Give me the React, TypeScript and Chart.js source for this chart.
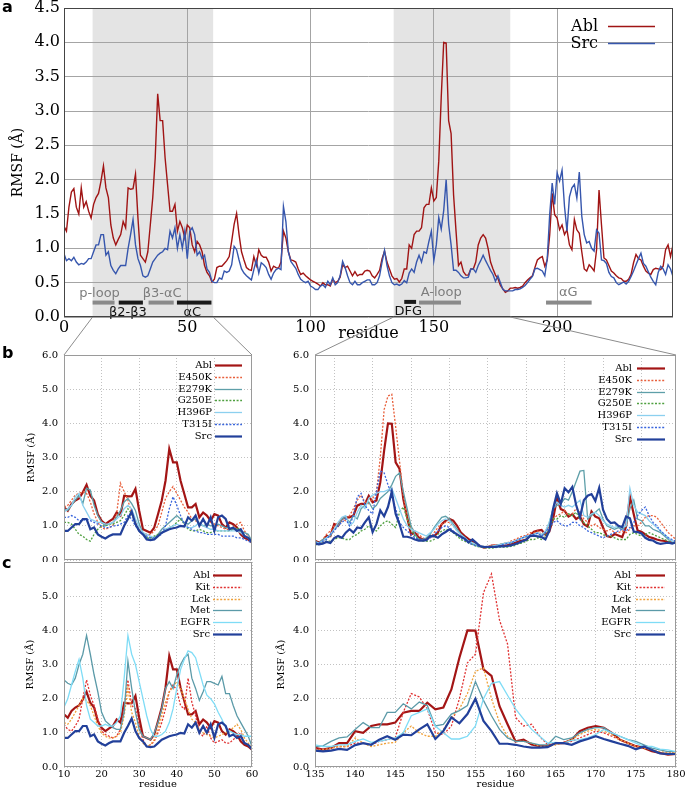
import React, { useEffect, useRef } from "react";
import { Chart, registerables } from "chart.js";
Chart.register(...registerables);

const SERIF = '"DejaVu Serif", serif';
const SANS = '"DejaVu Sans", sans-serif';

// ---------- data: RMSF per residue (residue index = array index) ----------
const ABL = [
  1.32, 1.25, 1.6, 1.82, 1.87, 1.6, 1.5, 1.88, 1.6, 1.68,
  1.54, 1.44, 1.64, 1.74, 1.8, 1.98, 2.2, 1.88, 1.74, 1.34,
  1.15, 1.05, 1.13, 1.2, 1.39, 1.3, 1.88, 1.86, 1.87, 2.08,
  1.44, 0.9, 0.85, 0.8, 0.95, 1.34, 1.74, 2.32, 3.25, 2.86,
  2.86, 2.32, 1.93, 1.54, 1.54, 1.64, 1.25, 1.39, 1.3, 1.15,
  1.34, 1.3, 1.05, 0.95, 1.1, 1.05, 0.95, 0.75, 0.65, 0.6,
  0.51, 0.55, 0.72, 0.74, 0.74, 0.78, 0.82, 0.88, 1.1, 1.35,
  1.51, 1.2, 0.95, 0.83, 0.72, 0.69, 0.68, 0.88, 0.75, 0.98,
  0.9, 0.87, 0.87, 0.8, 0.67, 0.74, 0.72, 0.71, 0.8, 1.25,
  1.15, 0.95, 0.83, 0.82, 0.8, 0.7, 0.62, 0.64, 0.6, 0.57,
  0.54, 0.52, 0.5, 0.48, 0.45, 0.5, 0.47, 0.47, 0.45, 0.55,
  0.5, 0.52, 0.58, 0.76, 0.72, 0.74, 0.67, 0.6, 0.66, 0.6,
  0.62, 0.62, 0.67, 0.68, 0.67, 0.6, 0.57, 0.62, 0.68, 0.85,
  0.96, 0.8, 0.7, 0.6, 0.55, 0.56, 0.51, 0.56, 0.7, 0.7,
  1.05, 1.0, 1.2, 1.25, 1.25, 1.3, 1.59, 1.64, 1.64, 1.88,
  1.69, 1.74, 2.27, 3.2, 4.0, 3.99, 2.86, 2.67, 1.78, 1.25,
  0.75, 0.8, 0.66, 0.61, 0.61, 0.7, 0.7, 0.8, 1.05, 1.15,
  1.2, 1.15, 1.0, 0.8, 0.7, 0.61, 0.56, 0.46, 0.41, 0.36,
  0.38, 0.42, 0.42, 0.43, 0.42, 0.43, 0.45, 0.5, 0.54, 0.57,
  0.6, 0.72, 0.83, 0.86, 0.88, 0.74, 0.83, 1.2, 1.8, 1.49,
  1.44, 1.27, 1.34, 1.2, 1.27, 1.05, 0.98, 1.42, 1.27, 1.22,
  0.95, 0.7, 0.67, 0.76, 0.72, 0.67, 0.98, 1.85, 1.34, 0.86,
  0.83, 0.75, 0.67, 0.64, 0.6, 0.57, 0.56, 0.52, 0.52, 0.55,
  0.62, 0.79, 0.91, 0.85, 0.83, 0.74, 0.67, 0.64, 0.62, 0.69,
  0.71, 0.7, 0.69, 0.74, 0.98, 1.05, 0.88, 1.05,
];
const SRC = [
  0.92, 0.82, 0.85, 0.82, 0.87, 0.8, 0.76, 0.78, 0.77, 0.8,
  0.85, 0.85, 0.95, 1.05, 1.05, 1.2, 1.2, 0.9, 0.95, 0.75,
  0.68, 0.63, 0.7, 0.75, 0.75, 0.75, 1.0, 1.2, 1.42, 1.05,
  0.85, 0.75, 0.6, 0.58, 0.6, 0.7, 0.8, 0.85, 0.9, 0.93,
  0.95, 1.0, 0.98, 1.25, 1.15, 1.3, 1.0, 1.2, 1.0, 1.25,
  0.85, 1.25, 1.3, 1.2, 0.9, 0.95, 0.85, 0.9, 0.7, 0.65,
  0.52, 0.5, 0.5, 0.57, 0.55, 0.67, 0.65, 0.67, 0.76, 1.03,
  0.98, 0.83, 0.7, 0.64, 0.6, 0.57, 0.54, 0.69, 0.83, 0.64,
  0.79, 0.76, 0.72, 0.62, 0.55, 0.64, 0.69, 0.71, 0.69, 1.61,
  1.39, 0.95, 0.81, 0.76, 0.71, 0.62, 0.55, 0.52, 0.5, 0.52,
  0.45, 0.43, 0.4, 0.4, 0.45, 0.47, 0.43, 0.52, 0.47, 0.57,
  0.47, 0.5, 0.6, 0.81, 0.72, 0.6, 0.5, 0.47, 0.52, 0.47,
  0.47, 0.5, 0.52, 0.54, 0.54, 0.47, 0.47, 0.5, 0.6, 0.8,
  0.97, 0.75, 0.6, 0.5, 0.47, 0.48, 0.46, 0.48, 0.53, 0.5,
  0.64, 0.7, 0.65, 0.8, 0.9, 0.8, 0.95, 0.93, 1.1, 1.25,
  0.82, 1.05, 1.45, 1.28, 1.55, 2.0, 1.35, 1.05, 0.68, 0.68,
  0.65, 0.6, 0.57, 0.57, 0.58, 0.7, 0.7, 0.65, 0.75, 0.82,
  0.9, 0.82, 0.75, 0.68, 0.62, 0.52, 0.6, 0.5, 0.4, 0.38,
  0.38, 0.38, 0.38, 0.4, 0.4, 0.41, 0.43, 0.46, 0.5, 0.55,
  0.59, 0.7, 0.71, 0.69, 0.67, 0.6, 0.85, 1.5, 1.95, 1.64,
  2.1, 1.98, 2.14, 1.61, 1.25, 1.75, 1.88, 1.93, 1.73, 2.11,
  1.47, 1.2, 1.08, 1.1, 1.0, 0.96, 1.27, 1.22, 0.83, 0.82,
  0.78, 0.65, 0.59, 0.57, 0.5, 0.47, 0.49, 0.51, 0.48, 0.52,
  0.59, 0.67, 0.76, 0.85, 0.93, 0.78, 0.74, 0.66, 0.58, 0.52,
  0.47, 0.65, 0.74, 0.7, 0.62, 0.76, 0.7, 0.59,
];

// zoomed windows
const LEFT_START = 10; // residues 10..60
const LEFT_END = 60;
const RIGHT_START = 135; // residues 135..229 (b) / 135..180 (c)
const RIGHT_END_B = 229;
const RIGHT_END_C = 180;

// Abl mutants, residues 10..60
const E450K_L = [1.55,1.6,1.75,1.9,1.95, 2.0,1.95,1.7,1.35,1.1, 0.95,0.9,0.95,1.0,1.35, 2.25,2.0,1.75,1.35,1.1, 0.9,0.8,0.75,0.75,0.85, 1.0,1.4,1.8,2.0,2.15, 1.95,1.75,1.55,1.4,1.2, 1.15,1.05,1.0,1.0,1.1, 1.05,1.0,0.95,0.9,0.9, 0.95,1.05,1.1,0.85,0.7, 0.5];
const E279K_L = [1.5,1.45,1.6,1.75,1.9, 1.65,2.1,2.05,1.6,1.3, 1.1,1.0,1.05,1.1,1.25, 1.45,1.7,1.8,1.65,1.45, 1.05,0.8,0.65,0.6,0.65, 0.75,0.9,1.0,1.1,1.2, 1.3,1.2,1.1,1.05,1.15, 1.2,1.05,1.0,1.05,1.0, 1.0,1.05,1.0,0.95,0.95, 0.9,0.9,0.85,0.8,0.75, 0.55];
const G250E_L = [1.1,1.1,1.05,0.9,0.75, 0.7,0.6,0.55,0.75,0.9, 1.0,1.0,1.05,1.05,1.1, 1.15,1.3,1.5,1.35,1.05, 0.85,0.75,0.65,0.65,0.7, 0.75,0.8,0.9,0.95,1.0, 1.1,1.2,1.05,0.9,0.85, 0.85,0.9,0.85,0.8,0.8, 0.85,0.85,0.85,0.85,0.85, 0.9,0.95,0.85,0.7,0.65, 0.5];
const H396P_L = [1.4,1.5,1.6,1.85,1.95, 1.6,1.4,1.2,1.15,1.1, 1.1,1.05,1.05,1.1,1.2, 1.3,1.5,1.6,1.5,1.2, 0.95,0.8,0.75,0.7,0.65, 0.7,0.8,0.9,0.95,1.0, 1.05,1.0,1.0,0.95,0.95, 1.0,1.1,1.0,0.95,0.9, 0.9,0.85,0.85,0.85,0.85, 0.85,0.85,0.8,0.7,0.65, 0.5];
const T315I_L = [1.25,1.25,1.3,1.25,1.15, 1.15,1.2,1.15,1.1,1.05, 1.0,0.95,0.95,1.0,1.0, 1.05,1.1,1.3,1.2,1.0, 0.85,0.75,0.7,0.65,0.65, 0.7,0.75,1.0,1.5,1.85, 1.6,1.3,1.05,0.95,0.9, 0.85,0.8,0.8,0.75,0.75, 0.75,0.75,0.7,0.7,0.7, 0.7,0.65,0.65,0.6,0.55, 0.5];

// Abl mutants, residues 135..229
const E450K_R = [0.5,0.5,0.6,0.75,0.85, 1.0,1.1,1.2,1.15,1.3, 1.5,1.75,1.9,1.7,1.65, 1.8,2.0,3.0,4.4,4.8, 4.85,3.9,2.9,1.9,1.2, 0.95,0.85,0.75,0.65,0.6, 0.65,0.8,0.95,1.05,1.1, 1.1,1.0,0.85,0.75,0.65, 0.55,0.5,0.45,0.42,0.4, 0.4,0.42,0.45,0.45,0.48, 0.5,0.55,0.6,0.65,0.7, 0.72,0.8,0.8,0.85,0.75, 0.85,1.0,1.2,1.3,1.35, 1.45,1.3,1.35,1.5,1.4, 1.2,1.1,1.0,1.05,0.95, 0.9,0.85,0.9,0.8,0.8, 0.85,0.8,0.9,1.0,1.0, 1.1,1.25,1.3,1.3,1.25, 1.1,0.95,0.8,0.7,0.6];
const E279K_R = [0.55,0.5,0.6,0.65,0.7, 0.9,1.0,1.2,1.25,1.1, 1.3,1.2,1.5,1.6,1.7, 1.5,1.6,1.8,1.9,2.0, 2.2,2.45,2.55,2.0,1.5, 1.0,0.75,0.6,0.6,0.65, 0.75,0.95,1.1,1.25,1.28, 1.2,1.05,0.9,0.75,0.65, 0.55,0.48,0.42,0.4,0.38, 0.38,0.4,0.42,0.45,0.48, 0.5,0.5,0.55,0.6,0.65, 0.68,0.7,0.75,0.8,0.7, 0.8,1.1,1.5,1.6,1.65, 1.8,1.75,2.0,2.3,2.6, 2.62,1.2,1.3,1.4,1.5, 1.2,1.0,0.95,0.9,0.95, 0.9,1.0,1.5,1.75,1.2, 1.15,1.0,1.0,0.9,0.85, 0.8,0.7,0.6,0.55,0.5];
const G250E_R = [0.45,0.45,0.5,0.55,0.55, 0.6,0.65,0.65,0.6,0.6, 0.7,0.75,0.85,0.9,1.0, 0.9,0.85,1.0,1.1,1.15, 1.05,0.95,1.4,1.55,1.2, 0.9,0.7,0.6,0.55,0.55, 0.55,0.6,0.75,0.85,0.9, 0.88,0.8,0.7,0.6,0.55, 0.5,0.45,0.4,0.38,0.36, 0.35,0.35,0.36,0.38,0.38, 0.38,0.4,0.42,0.48,0.5, 0.55,0.6,0.6,0.65,0.6, 0.7,0.9,1.2,1.2,1.3, 1.25,1.35,1.3,1.4,1.2, 1.1,1.0,0.9,0.8,0.8, 0.75,0.7,0.7,0.65,0.6, 0.6,0.6,0.75,0.8,0.75, 0.7,0.75,0.8,0.75,0.7, 0.65,0.6,0.55,0.5,0.5];
const H396P_R = [0.5,0.5,0.55,0.65,0.75, 0.9,1.1,1.25,1.3,1.0, 1.1,1.4,1.6,1.5,1.8, 1.9,1.95,2.0,2.0,2.05, 2.1,1.8,1.5,1.2,1.0, 0.9,0.85,0.8,0.75,0.7, 0.8,0.9,1.05,1.15,1.2, 1.15,1.0,0.85,0.75,0.65, 0.55,0.5,0.45,0.42,0.4, 0.4,0.4,0.42,0.45,0.47, 0.5,0.52,0.55,0.6,0.65, 0.7,0.72,0.75,0.8,0.75, 0.85,1.1,1.5,1.7,1.6, 1.55,1.6,1.55,1.65,1.75, 1.3,1.25,1.35,1.4,1.3, 1.15,1.05,1.0,0.95,1.0, 0.95,1.0,2.1,1.6,1.4, 1.35,1.3,1.15,1.05,0.95, 0.85,0.75,0.65,0.55,0.5];
const T315I_R = [0.5,0.5,0.55,0.6,0.75, 0.85,1.0,1.1,1.2,1.0, 1.3,1.85,1.95,1.6,1.45, 1.35,2.0,2.6,2.55,2.2, 1.9,1.5,1.1,0.95,0.85, 0.75,0.65,0.6,0.6,0.6, 0.65,0.75,0.85,0.95,1.0, 0.95,0.85,0.75,0.65,0.58, 0.5,0.45,0.42,0.4,0.38, 0.38,0.38,0.4,0.42,0.45, 0.48,0.5,0.55,0.6,0.65, 0.7,0.72,0.75,0.78,0.7, 0.8,0.95,1.1,1.15,1.05, 1.0,1.0,1.1,1.1,1.0, 0.95,0.85,0.8,0.75,0.7, 0.65,0.7,0.75,0.8,0.85, 0.9,0.85,0.95,1.1,1.3, 1.45,1.55,1.3,1.1,1.0, 0.85,0.75,0.65,0.6,0.55];

// other kinases, residues 10..60
const KIT_L = [1.25,1.1,1.05,1.2,1.4, 2.0,2.55,2.1,1.8,1.4, 1.05,0.95,0.9,0.85,0.9, 1.1,1.7,2.55,1.8,1.7, 1.2,0.8,0.6,0.65,0.75, 1.0,1.3,1.7,2.2,2.4, 2.25,1.8,1.7,2.6,1.9, 1.5,1.0,0.9,1.2,0.85, 0.7,0.75,0.8,0.7,0.7, 0.8,0.9,1.0,0.7,0.65, 0.5];
const LCK_L = [1.3,1.25,1.4,1.6,1.8, 2.0,1.95,1.8,1.5,1.2, 1.0,0.9,0.85,0.85,0.9, 1.0,1.5,2.3,1.6,1.3, 0.9,0.7,0.6,0.65,0.8, 1.1,1.5,1.9,2.2,2.35, 2.5,2.3,2.0,1.7,1.4, 1.3,1.1,1.0,0.95,0.9, 0.85,0.9,0.95,1.0,1.05, 1.15,1.25,1.1,0.85,0.7, 0.55];
const MET_L = [2.55,2.45,2.4,2.6,3.0, 3.3,3.85,3.3,2.7,2.2, 1.6,1.35,1.25,1.15,1.1, 1.1,1.6,3.1,2.3,1.6, 1.1,0.9,0.85,0.8,1.0, 1.3,1.7,2.3,2.5,2.3, 2.7,3.0,3.2,3.3,2.6, 2.3,1.95,2.2,2.5,2.5, 2.45,2.4,2.65,2.15,2.15, 1.8,1.5,1.3,1.1,0.9, 0.6];
const EGFR_L = [1.75,2.0,2.4,2.8,3.15, 2.6,1.8,1.4,1.3,1.2, 1.2,1.25,1.2,1.2,1.3, 1.5,2.6,3.85,3.3,3.0, 2.5,2.0,1.5,1.1,0.9, 0.9,0.95,1.05,1.3,1.7, 2.3,2.85,3.15,3.4,3.35, 3.2,2.8,2.4,2.1,2.0, 1.85,1.6,1.4,1.15,1.05, 1.0,0.95,0.95,0.9,0.9, 0.9];

// other kinases, residues 135..180
const KIT_R = [0.55,0.5,0.55,0.6,0.6, 0.7,0.7,0.65,0.75,0.8, 0.85,1.6,2.15,2.05,1.7, 1.0,0.95,1.2,2.0,3.05, 3.3,5.1,5.65,4.3,3.6, 1.45,1.2,1.25,0.9,0.65, 0.7,0.72,0.75,0.85,0.95, 1.05,1.0,0.9,0.8,0.7, 0.6,0.58,0.5,0.4,0.4, 0.42];
const LCK_R = [0.5,0.5,0.55,0.6,0.6, 0.85,0.7,0.6,0.65,0.7, 0.72,1.0,1.2,1.0,0.9, 0.9,1.1,1.45,1.7,2.15, 2.8,2.9,2.0,1.3,0.9, 0.75,0.75,0.7,0.6,0.6, 0.65,0.7,0.8,0.95,1.05, 1.1,1.05,0.95,0.8,0.7, 0.6,0.55,0.5,0.45,0.42, 0.42];
const MET_R = [0.6,0.62,0.75,0.85,0.88, 1.1,1.3,1.15,1.15,1.6, 1.6,1.85,1.7,1.9,1.8, 1.2,1.25,1.55,1.65,1.8, 2.5,1.95,1.5,1.1,0.85, 0.75,0.75,0.7,0.65,0.65, 0.9,0.8,0.85,1.0,1.1, 1.15,1.15,1.0,0.9,0.8, 0.75,0.65,0.55,0.5,0.45, 0.45];
const EGFR_R = [0.65,0.6,0.6,0.65,0.65, 0.75,0.82,0.72,0.75,0.8, 0.85,1.0,1.5,1.6,1.7, 1.2,1.0,0.82,0.82,0.9, 1.2,2.0,2.45,2.5,2.1, 1.7,1.4,1.1,0.9,0.7, 0.72,0.7,0.78,0.8,0.85, 0.95,1.1,1.0,0.9,0.8, 0.7,0.6,0.6,0.52,0.5, 0.45];

// panel a axis ticks, shaded windows and structural annotations
const A_X_TICKS = [0, 50, 100, 150, 200];
const A_X_MAX = 247;
const SHADE_START = [11.6, 133.7];
const SHADE_END = [60.5, 181];
const REGION_LABELS = ["p-loop", "β2-β3", "β3-αC", "αC", "DFG", "A-loop", "αG"];
const REGION_START = [11.6, 22.2, 34.3, 45.8, 138, 144, 195.5];
const REGION_END = [20.5, 32, 44.5, 59.8, 142.8, 161, 214];
const REGION_BAR_Y = [0.21, 0.21, 0.21, 0.21, 0.22, 0.21, 0.21];
const REGION_TEXT_X = [14.4, 25.9, 39.8, 52, 139.6, 153, 204.5];
const REGION_TEXT_Y = [0.34, 0.06, 0.34, 0.06, 0.08, 0.35, 0.35];
const REGION_DARK = [false, true, false, true, true, false, false];

const B_LEFT_GRID = [20, 30, 40, 50];
const B_RIGHT_GRID = [140, 150, 160, 170, 180, 190, 200, 210, 220];
const C_LEFT_TICKS = [10, 20, 30, 40, 50, 60];
const C_RIGHT_TICKS = [135, 140, 145, 150, 155, 160, 165, 170, 175, 180];

// ---------- helpers ----------
type Pt = { x: number; y: number };
const pts = (vals: number[], start: number, from = -Infinity, to = Infinity): Pt[] =>
  vals.map((v, i) => ({ x: start + i, y: v })).filter((p) => p.x >= from && p.x <= to);

const fixAxis = (size: number, horizontal: boolean) => (scale: any) => {
  if (horizontal) scale.height = size;
  else scale.width = size;
  scale.paddingTop = 0;
  scale.paddingBottom = 0;
  scale.paddingLeft = 0;
  scale.paddingRight = 0;
};
const setTicks = (vals: number[]) => (scale: any) => {
  scale.ticks = vals.map((v) => ({ value: v }));
};

const C = {
  ablA: "#a01414",
  srcA: "#3656ad",
  abl: "#a31515",
  src: "#22409a",
  e450k: "#e8603c",
  e279k: "#5e9fa9",
  g250e: "#4fa040",
  h396p: "#8cd0ef",
  t315i: "#3a66dd",
  kit: "#e03232",
  lck: "#f0a23c",
  met: "#5b9aa8",
  egfr: "#7fdcf6",
};

const series = (label: string, data: Pt[], color: string, width: number, dotted: boolean, order: number) => ({
  label,
  data,
  borderColor: color,
  backgroundColor: color,
  borderWidth: width,
  borderDash: dotted ? [2, 1.6] : [],
  pointRadius: 0,
  tension: 0,
  fill: false,
  order,
});

const framePlugin = (color: string) => ({
  id: "frame",
  afterDatasetsDraw(chart: any) {
    const { ctx, chartArea: a } = chart;
    ctx.save();
    ctx.strokeStyle = color;
    ctx.lineWidth = 1;
    ctx.setLineDash([]);
    const l = Math.round(a.left) + 0.5;
    const t = Math.round(a.top) + 0.5;
    const r = Math.round(a.right) - 0.5;
    const b = Math.round(a.bottom) - 0.5;
    ctx.strokeRect(l, t, r - l, b - t);
    ctx.restore();
  },
});

type LegendOpts = { top: number; spacing: number; right: number; len: number; gap: number; font: string };
const legendPlugin = (o: LegendOpts) => ({
  id: "sideLegend",
  afterDraw(chart: any) {
    const { ctx, chartArea: a } = chart;
    ctx.save();
    ctx.font = o.font;
    ctx.textAlign = "right";
    ctx.textBaseline = "middle";
    chart.data.datasets.forEach((ds: any, i: number) => {
      const y = Math.round(a.top + o.top + i * o.spacing) + 0.5;
      const x2 = a.right - o.right;
      const x1 = x2 - o.len;
      ctx.fillStyle = "#000";
      ctx.fillText(ds.label, x1 - o.gap, y);
      ctx.strokeStyle = ds.borderColor;
      ctx.lineWidth = ds.borderWidth;
      ctx.setLineDash(ds.borderDash || []);
      ctx.beginPath();
      ctx.moveTo(x1, y);
      ctx.lineTo(x2, y);
      ctx.stroke();
    });
    ctx.restore();
  },
});

// page-pixel corners of the zoomed panels that the guide lines run to
const ZOOM_TARGETS = [
  [64, 355],
  [252, 355],
  [315, 355],
  [676, 355],
];

const panelAPlugin = {
  id: "panelA",
  beforeDraw(chart: any) {
    const { ctx, chartArea: a, scales } = chart;
    const x = scales.x;
    ctx.save();
    ctx.fillStyle = "#e4e4e4";
    SHADE_START.forEach((s, i) => {
      const x1 = x.getPixelForValue(s);
      const x2 = x.getPixelForValue(SHADE_END[i]);
      ctx.fillRect(x1, a.top, x2 - x1, a.bottom - a.top);
    });
    ctx.restore();
  },
  afterDatasetsDraw(chart: any) {
    const { ctx, scales } = chart;
    const x = scales.x;
    const y = scales.y;
    ctx.save();
    REGION_LABELS.forEach((lab, i) => {
      const x1 = x.getPixelForValue(REGION_START[i]);
      const x2 = x.getPixelForValue(REGION_END[i]);
      const yb = y.getPixelForValue(REGION_BAR_Y[i]);
      ctx.fillStyle = REGION_DARK[i] ? "#1a1a1a" : "#8a8a8a";
      ctx.fillRect(x1, yb - 2, x2 - x1, 4);
      ctx.font = `13px ${SANS}`;
      ctx.textAlign = "center";
      ctx.textBaseline = "middle";
      ctx.fillStyle = REGION_DARK[i] ? "#111" : "#7d7d7d";
      ctx.fillText(lab, x.getPixelForValue(REGION_TEXT_X[i]), y.getPixelForValue(REGION_TEXT_Y[i]));
    });
    ctx.restore();
  },
  afterDraw(chart: any) {
    const { ctx, chartArea: a, scales } = chart;
    const x = scales.x;
    ctx.save();
    ctx.strokeStyle = "#8c8c8c";
    ctx.lineWidth = 1;
    SHADE_START.forEach((s, i) => {
      const pairs = [
        [s, ZOOM_TARGETS[i * 2]],
        [SHADE_END[i], ZOOM_TARGETS[i * 2 + 1]],
      ] as const;
      pairs.forEach(([v, t]) => {
        ctx.beginPath();
        ctx.moveTo(x.getPixelForValue(v), a.bottom);
        ctx.lineTo(t[0], t[1]);
        ctx.stroke();
      });
    });
    ctx.restore();
  },
};

// ---------- chart configs ----------
const bigFont = { family: SERIF, size: 16, lineHeight: 1.2 };
const smallFont = { family: SERIF, size: 10, lineHeight: 1.2 };

const buildA = () => ({
  type: "line",
  data: {
    datasets: [
      series("Abl", pts(ABL, 0), C.ablA, 1.4, false, 0),
      series("Src", pts(SRC, 0), C.srcA, 1.4, false, -1),
    ],
  },
  options: {
    animation: false,
    responsive: false,
    devicePixelRatio: 1,
    events: [],
    layout: { padding: { top: 8, right: 14, bottom: 11, left: 0 } },
    plugins: { legend: { display: false }, tooltip: { enabled: false } },
    scales: {
      x: {
        type: "linear",
        min: 0,
        max: A_X_MAX,
        afterBuildTicks: setTicks(A_X_TICKS),
        afterFit: fixAxis(32, true),
        grid: { color: "#a4a4a4", lineWidth: 1, drawTicks: false },
        border: { display: false },
        ticks: { font: bigFont, color: "#000", padding: 1, maxRotation: 0, autoSkip: false },
        title: { display: true, text: "residue", font: bigFont, color: "#000", padding: { top: 0, bottom: 6 } },
      },
      y: {
        type: "linear",
        min: 0,
        max: 4.5,
        afterFit: fixAxis(64, false),
        grid: { color: "#a4a4a4", lineWidth: 1, drawTicks: false },
        border: { display: false },
        ticks: { stepSize: 0.5, font: bigFont, color: "#000", padding: 4, callback: (v: any) => Number(v).toFixed(1) },
        title: {
          display: true,
          text: "RMSF (Å)",
          font: { family: SERIF, size: 14, lineHeight: 1.2 },
          color: "#000",
          padding: { top: 9.6, bottom: 0 },
        },
      },
    },
  },
  plugins: [
    panelAPlugin,
    framePlugin("#444"),
    legendPlugin({ top: 18, spacing: 17, right: 18, len: 47, gap: 10, font: `16px ${SERIF}` }),
  ],
});

type SmallOpts = {
  datasets: any[];
  xmin: number;
  xmax: number;
  xticks: number[];
  showX: boolean;
  yWidth: number;
  yTitlePad: number | null;
  hide6: boolean;
  padTop: number;
  padRight: number;
  padBottom: number;
  legend: LegendOpts;
};

const buildSmall = (o: SmallOpts) => ({
  type: "line",
  data: { datasets: o.datasets },
  options: {
    animation: false,
    responsive: false,
    devicePixelRatio: 1,
    events: [],
    layout: { padding: { top: o.padTop, right: o.padRight, bottom: o.padBottom, left: 0 } },
    plugins: { legend: { display: false }, tooltip: { enabled: false } },
    scales: {
      x: {
        type: "linear",
        min: o.xmin,
        max: o.xmax,
        afterBuildTicks: setTicks(o.xticks),
        afterFit: fixAxis(o.showX ? 23 : 0, true),
        grid: { color: "#c2c2c2", lineWidth: 1, drawTicks: false },
        border: { display: false, dash: [1, 2] },
        ticks: { display: o.showX, font: smallFont, color: "#000", padding: 1, maxRotation: 0, autoSkip: false },
        title: { display: o.showX, text: "residue", font: smallFont, color: "#000", padding: { top: 0, bottom: 0 } },
      },
      y: {
        type: "linear",
        min: 0,
        max: 6,
        afterFit: fixAxis(o.yWidth, false),
        grid: { color: "#c2c2c2", lineWidth: 1, drawTicks: false },
        border: { display: false, dash: [1, 2] },
        ticks: {
          stepSize: 1,
          font: smallFont,
          color: "#000",
          padding: 6,
          callback: (v: any) => (o.hide6 && Number(v) === 6 ? "" : Number(v).toFixed(1)),
        },
        title: {
          display: o.yTitlePad !== null,
          text: "RMSF (Å)",
          font: smallFont,
          color: "#000",
          padding: { top: o.yTitlePad ?? 0, bottom: 0 },
        },
      },
    },
  },
  plugins: [framePlugin("#9a9a9a"), legendPlugin(o.legend)],
});

const THICK = 2.2;
const THIN = 1.3;

const mutantSets = (from: number, to: number, left: boolean) => {
  const s = left ? LEFT_START : RIGHT_START;
  return [
    series("Abl", pts(ABL, 0, from, to), C.abl, THICK, false, 0),
    series("E450K", pts(left ? E450K_L : E450K_R, s, from, to), C.e450k, THIN, true, -1),
    series("E279K", pts(left ? E279K_L : E279K_R, s, from, to), C.e279k, THIN, false, -2),
    series("G250E", pts(left ? G250E_L : G250E_R, s, from, to), C.g250e, THIN, true, -3),
    series("H396P", pts(left ? H396P_L : H396P_R, s, from, to), C.h396p, THIN, false, -4),
    series("T315I", pts(left ? T315I_L : T315I_R, s, from, to), C.t315i, THIN, true, -5),
    series("Src", pts(SRC, 0, from, to), C.src, THICK, false, -6),
  ];
};
const kinaseSets = (from: number, to: number, left: boolean) => {
  const s = left ? LEFT_START : RIGHT_START;
  return [
    series("Abl", pts(ABL, 0, from, to), C.abl, THICK, false, 0),
    series("Kit", pts(left ? KIT_L : KIT_R, s, from, to), C.kit, THIN, true, -1),
    series("Lck", pts(left ? LCK_L : LCK_R, s, from, to), C.lck, THIN, true, -2),
    series("Met", pts(left ? MET_L : MET_R, s, from, to), C.met, THIN, false, -3),
    series("EGFR", pts(left ? EGFR_L : EGFR_R, s, from, to), C.egfr, THIN, false, -4),
    series("Src", pts(SRC, 0, from, to), C.src, THICK, false, -5),
  ];
};

const LEG_FONT = `10px ${SERIF}`;

const buildBLeft = () =>
  buildSmall({
    datasets: mutantSets(LEFT_START, LEFT_END, true),
    xmin: LEFT_START,
    xmax: LEFT_END,
    xticks: B_LEFT_GRID,
    showX: false,
    yWidth: 64,
    yTitlePad: 25.7,
    hide6: false,
    padTop: 10,
    padRight: 30,
    padBottom: 2,
    legend: { top: 10, spacing: 11.8, right: 10, len: 27, gap: 3, font: LEG_FONT },
  });
const buildBRight = () =>
  buildSmall({
    datasets: mutantSets(RIGHT_START, RIGHT_END_B, false),
    xmin: RIGHT_START,
    xmax: RIGHT_END_B,
    xticks: B_RIGHT_GRID,
    showX: false,
    yWidth: 50,
    yTitlePad: null,
    hide6: false,
    padTop: 10,
    padRight: 11,
    padBottom: 2,
    legend: { top: 13, spacing: 11.8, right: 11, len: 28, gap: 5, font: LEG_FONT },
  });
const buildCLeft = () =>
  buildSmall({
    datasets: kinaseSets(LEFT_START, LEFT_END, true),
    xmin: LEFT_START,
    xmax: LEFT_END,
    xticks: C_LEFT_TICKS,
    showX: true,
    yWidth: 64,
    yTitlePad: 24,
    hide6: true,
    padTop: 0,
    padRight: 30,
    padBottom: 0,
    legend: { top: 13, spacing: 11.8, right: 10, len: 29, gap: 3, font: LEG_FONT },
  });
const buildCRight = () =>
  buildSmall({
    datasets: kinaseSets(RIGHT_START, RIGHT_END_C, false),
    xmin: RIGHT_START,
    xmax: RIGHT_END_C,
    xticks: C_RIGHT_TICKS,
    showX: true,
    yWidth: 50,
    yTitlePad: 10.7,
    hide6: true,
    padTop: 0,
    padRight: 11,
    padBottom: 0,
    legend: { top: 13, spacing: 11.8, right: 11, len: 29, gap: 5, font: LEG_FONT },
  });

// ---------- components ----------
function ChartCanvas(props: { left: number; top: number; width: number; height: number; build: () => any }) {
  const ref = useRef<HTMLCanvasElement | null>(null);
  useEffect(() => {
    if (!ref.current) return;
    const chart = new Chart(ref.current, props.build());
    return () => chart.destroy();
  }, []);
  return (
    <canvas
      ref={ref}
      width={props.width}
      height={props.height}
      style={{ position: "absolute", left: props.left, top: props.top, width: props.width, height: props.height }}
    />
  );
}

const letterStyle = (left: number, top: number): React.CSSProperties => ({
  position: "absolute",
  left,
  top,
  font: `bold 16px ${SANS}`,
  lineHeight: "16px",
  color: "#000",
});

export default function App() {
  return (
    <div style={{ position: "absolute", left: 0, top: 0, width: 687, height: 790, background: "#fff", overflow: "hidden" }}>
      <ChartCanvas left={0} top={345} width={282} height={217} build={buildBLeft} />
      <ChartCanvas left={265} top={345} width={422} height={217} build={buildBRight} />
      <ChartCanvas left={0} top={562} width={282} height={228} build={buildCLeft} />
      <ChartCanvas left={265} top={562} width={422} height={228} build={buildCRight} />
      <ChartCanvas left={0} top={0} width={687} height={360} build={buildA} />
      <div style={letterStyle(2, -1.5)}>a</div>
      <div style={letterStyle(2, 344.5)}>b</div>
      <div style={letterStyle(2, 554.5)}>c</div>
    </div>
  );
}
